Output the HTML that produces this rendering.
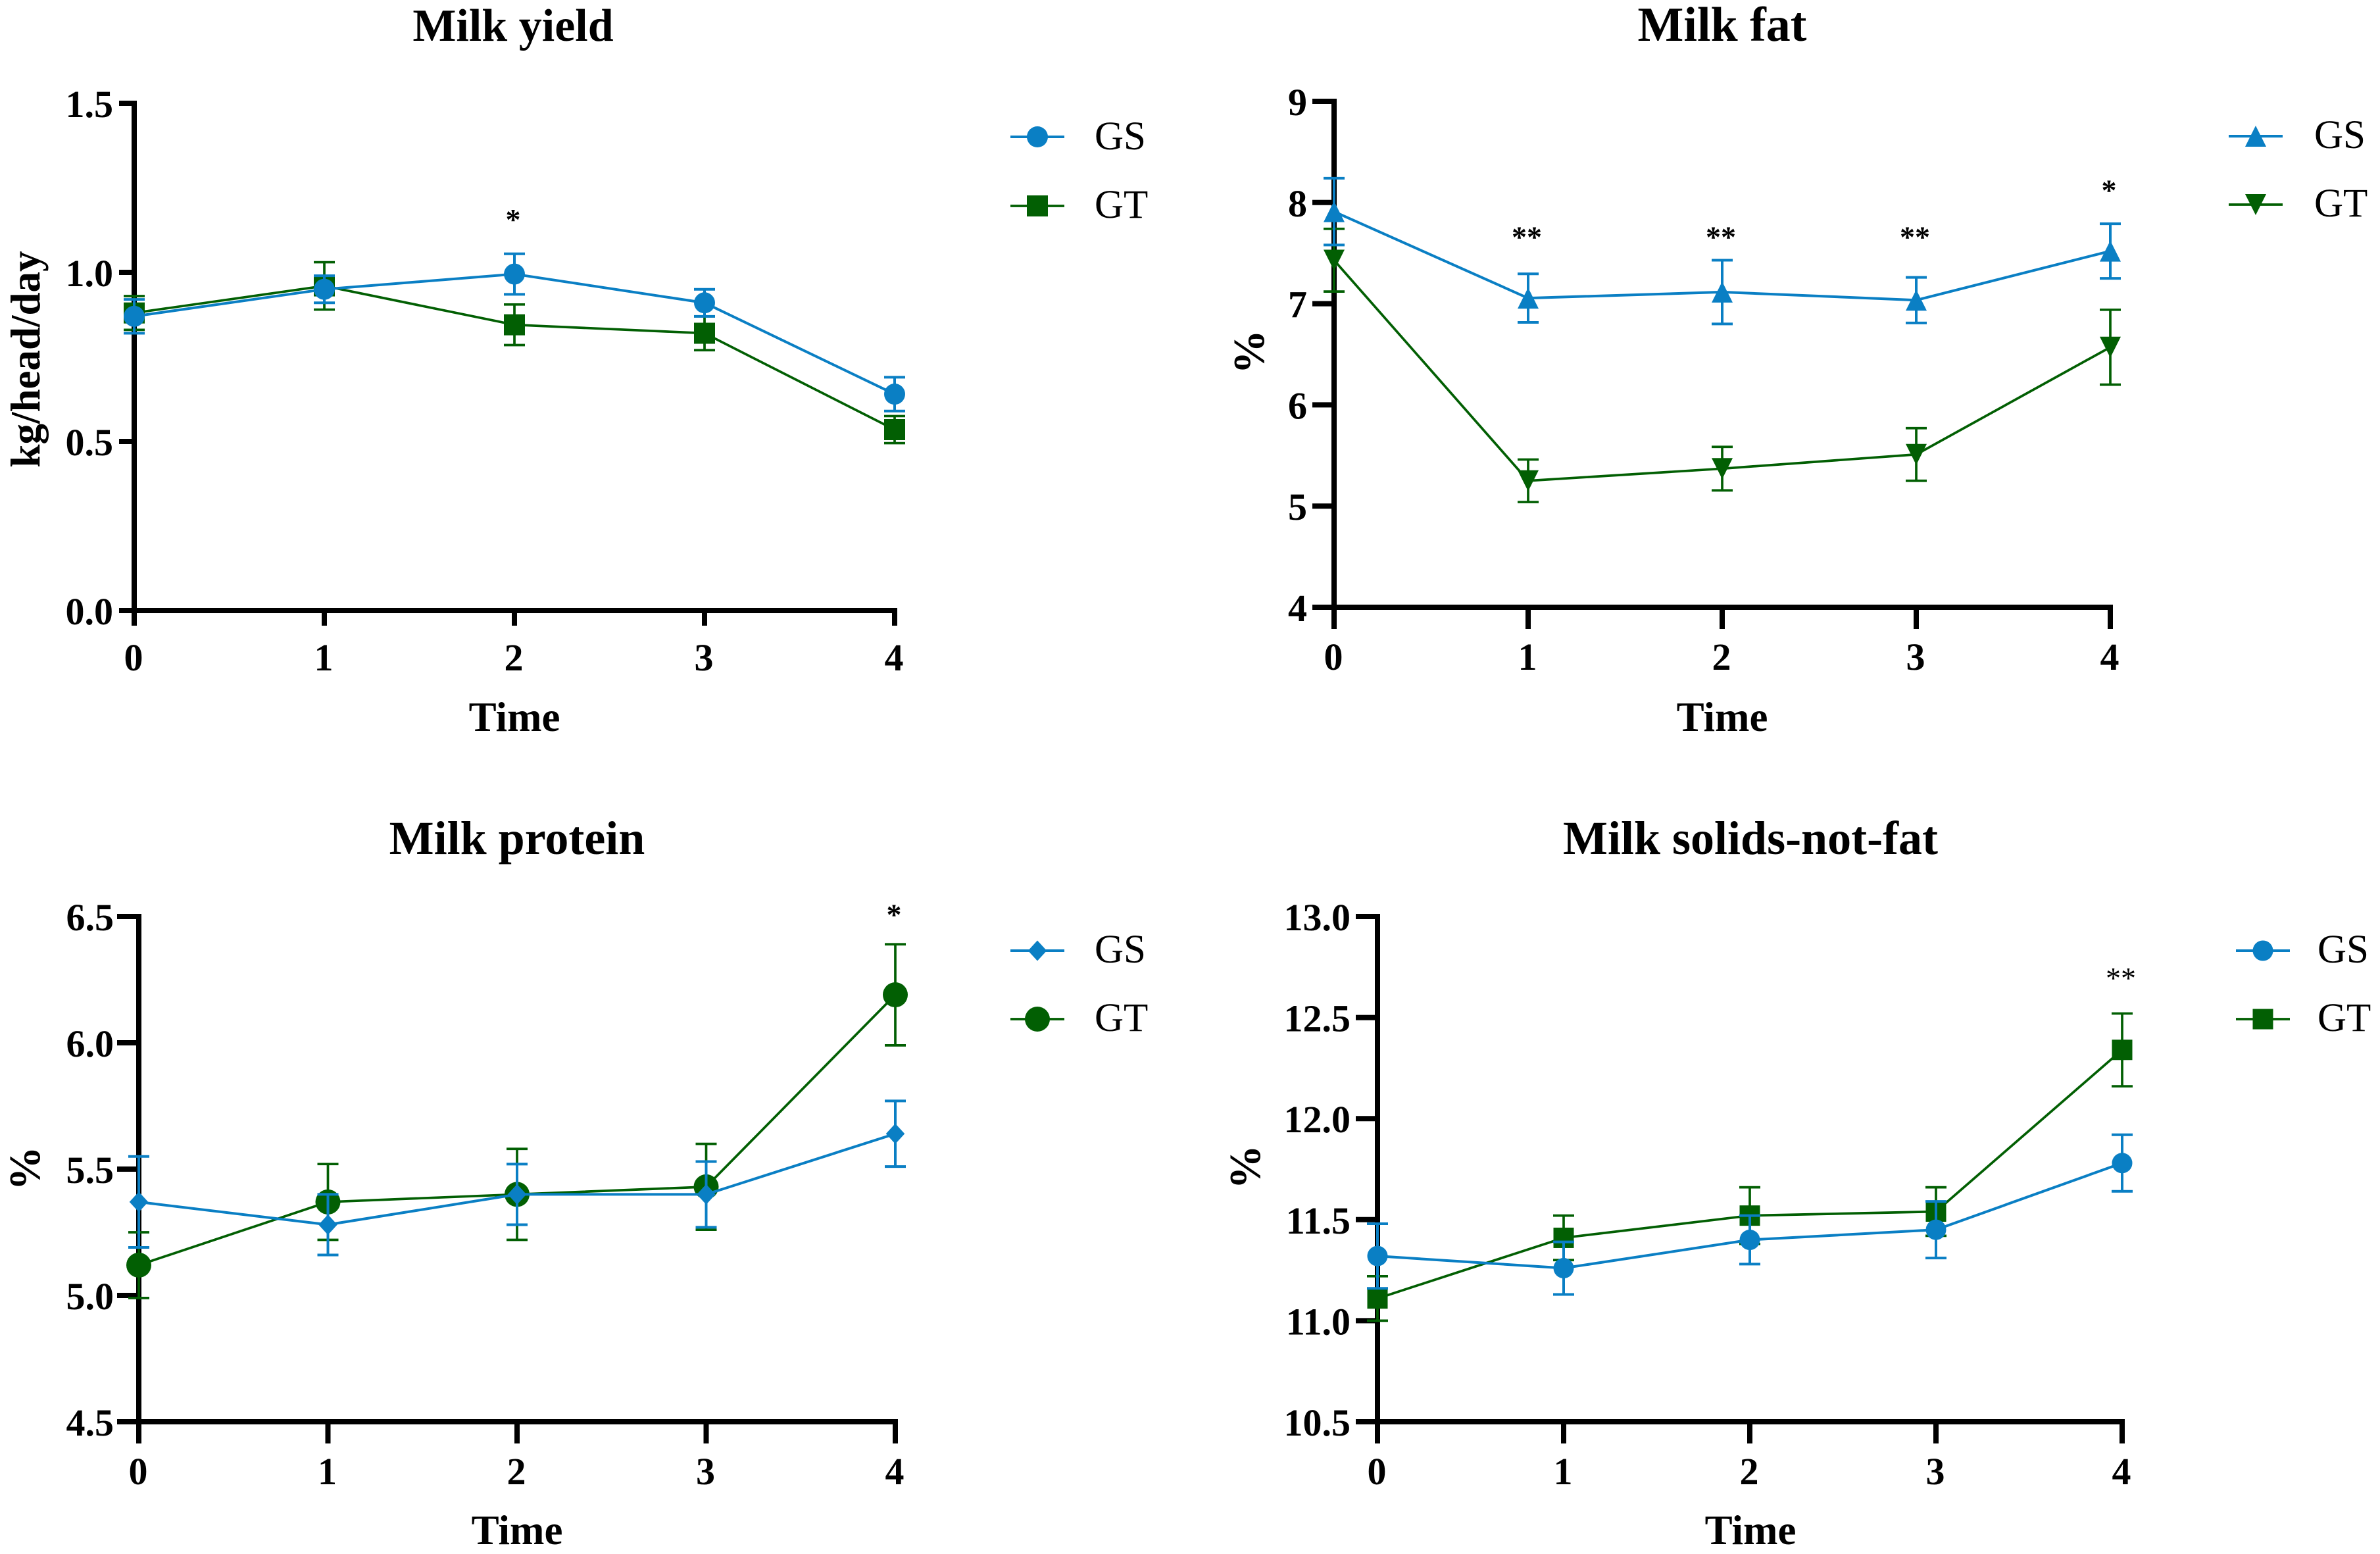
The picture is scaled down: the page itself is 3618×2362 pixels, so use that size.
<!DOCTYPE html>
<html lang="en">
<head>
<meta charset="utf-8">
<title>Milk yield and composition over time</title>
<style>
html,body{margin:0;padding:0;background:#fff;}
svg{display:block;}
text{font-family:"Liberation Serif",serif;fill:#000;}
.title{font-size:72px;font-weight:bold;text-anchor:middle;}
.axis-title{font-size:63px;font-weight:bold;text-anchor:middle;}
.percent{font-size:67px;font-weight:bold;text-anchor:middle;}
.tick{font-size:58px;font-weight:bold;}
.legend{font-size:61px;}
.star{font-size:46px;font-weight:bold;text-anchor:middle;}
</style>
</head>
<body>
<svg id="figure" width="3618" height="2362" viewBox="0 0 3618 2362" xmlns="http://www.w3.org/2000/svg">
  <rect x="0" y="0" width="3618" height="2362" fill="#fff"/>

  <g id="panel-yield">
    <text class="title" style="font-size:70px" x="780" y="62">Milk yield</text>
    <text class="axis-title" x="782" y="1111">Time</text>
    <text class="axis-title" transform="translate(60 546) rotate(-90)">kg/head/day</text>
    <text class="legend" x="1664" y="227">GS</text>
    <text class="legend" x="1664" y="331">GT</text>
  </g>

  <g id="panel-fat">
    <text class="title" style="font-size:74px" x="2618" y="62">Milk fat</text>
    <text class="axis-title" x="2618" y="1111">Time</text>
    <text class="percent" transform="translate(1921 535) rotate(-90)">%</text>
    <text class="legend" x="3518" y="225">GS</text>
    <text class="legend" x="3518" y="329">GT</text>
  </g>

  <g id="panel-protein">
    <text class="title" x="786" y="1298">Milk protein</text>
    <text class="axis-title" x="786" y="2347">Time</text>
    <text class="percent" transform="translate(60 1776) rotate(-90)">%</text>
    <text class="legend" x="1664" y="1463">GS</text>
    <text class="legend" x="1664" y="1567">GT</text>
  </g>

  <g id="panel-snf">
    <text class="title" x="2661" y="1298">Milk solids-not-fat</text>
    <text class="axis-title" x="2661" y="2347">Time</text>
    <text class="percent" transform="translate(1915 1774) rotate(-90)">%</text>
    <text class="legend" x="3523" y="1463">GS</text>
    <text class="legend" x="3523" y="1567">GT</text>
  </g>
</svg>

<script>
// ---- shared category axis ----
const timeCategories = [0, 1, 2, 3, 4];

// ---- Milk yield ----
const yieldTicks = [0, 0.5, 1.0, 1.5];
const yieldTickLabels = ['0.0', '0.5', '1.0', '1.5'];
const yieldGS = [0.87, 0.95, 0.995, 0.91, 0.64];
const yieldGSErr = [0.05, 0.04, 0.06, 0.04, 0.05];
const yieldGT = [0.88, 0.96, 0.845, 0.82, 0.535];
const yieldGTErr = [0.05, 0.07, 0.06, 0.05, 0.04];
const yieldStarTimes = [2];
const yieldStarLevels = [1.165];
const yieldStarLabels = ['*'];

// ---- Milk fat ----
const fatTicks = [4, 5, 6, 7, 8, 9];
const fatTickLabels = ['4', '5', '6', '7', '8', '9'];
const fatGS = [7.91, 7.055, 7.115, 7.035, 7.52];
const fatGSErr = [0.33, 0.24, 0.315, 0.225, 0.27];
const fatGT = [7.43, 5.25, 5.37, 5.51, 6.57];
const fatGTErr = [0.31, 0.21, 0.215, 0.26, 0.37];
const fatStarTimes = [1, 2, 3, 4];
const fatStarLevels = [7.69, 7.69, 7.69, 8.15];
const fatStarLabels = ['**', '**', '**', '*'];

// ---- Milk protein ----
const proteinTicks = [4.5, 5.0, 5.5, 6.0, 6.5];
const proteinTickLabels = ['4.5', '5.0', '5.5', '6.0', '6.5'];
const proteinGS = [5.37, 5.28, 5.40, 5.40, 5.64];
const proteinGSErr = [0.18, 0.12, 0.12, 0.13, 0.13];
const proteinGT = [5.12, 5.37, 5.40, 5.43, 6.19];
const proteinGTErr = [0.13, 0.15, 0.18, 0.17, 0.20];
const proteinStarTimes = [4];
const proteinStarLevels = [6.52];
const proteinStarLabels = ['*'];

// ---- Milk solids-not-fat ----
const snfTicks = [10.5, 11.0, 11.5, 12.0, 12.5, 13.0];
const snfTickLabels = ['10.5', '11.0', '11.5', '12.0', '12.5', '13.0'];
const snfGS = [11.32, 11.26, 11.40, 11.45, 11.78];
const snfGSErr = [0.16, 0.13, 0.12, 0.14, 0.14];
const snfGT = [11.11, 11.41, 11.52, 11.54, 12.34];
const snfGTErr = [0.11, 0.11, 0.14, 0.12, 0.18];
const snfStarTimes = [4];
const snfStarLevels = [12.71];
const snfStarLabels = ['**'];

const BLUE = '#0a7fc4';
const GREEN = '#025f03';
const NS = 'http://www.w3.org/2000/svg';

function make(parent, tag, attrs) {
  const el = document.createElementNS(NS, tag);
  for (const k in attrs) el.setAttribute(k, attrs[k]);
  parent.appendChild(el);
  return el;
}

function marker(parent, shape, cx, cy, size, color) {
  const r = size / 2;
  if (shape === 'circle') {
    return make(parent, 'circle', {cx: cx, cy: cy, r: r, fill: color});
  }
  if (shape === 'square') {
    return make(parent, 'rect', {x: cx - r, y: cy - r, width: size, height: size, fill: color});
  }
  let pts;
  if (shape === 'up') {
    pts = [[cx, cy - r], [cx + r, cy + r], [cx - r, cy + r]];
  } else if (shape === 'down') {
    pts = [[cx, cy + r], [cx + r, cy - r], [cx - r, cy - r]];
  } else {
    pts = [[cx, cy - r], [cx + r * 0.92, cy], [cx, cy + r], [cx - r * 0.92, cy]];
  }
  return make(parent, 'polygon', {points: pts.map(p => p.join(',')).join(' '), fill: color});
}

function drawSeries(g, sx, sy, values, errs, color, shape, size, width) {
  const group = make(g, 'g', {});
  
  

  const capHalf = 16;
  values.forEach(function (v, i) {
    const x = sx(timeCategories[i]);
    const bar = make(group, 'path', {
      d: 'M' + (x - capHalf) + ' ' + sy(v + errs[i]) + 'H' + (x + capHalf) +
         'M' + x + ' ' + sy(v + errs[i]) + 'V' + sy(v - errs[i]) +
         'M' + (x - capHalf) + ' ' + sy(v - errs[i]) + 'H' + (x + capHalf),
      fill: 'none', stroke: color, 'stroke-width': width
    });
    
    
  });

  const line = make(group, 'polyline', {
    points: values.map((v, i) => sx(timeCategories[i]) + ',' + sy(v)).join(' '),
    fill: 'none', stroke: color, 'stroke-width': width, 'stroke-linejoin': 'round'
  });
  
  

  values.forEach(function (v, i) {
    const m = marker(group, shape, sx(timeCategories[i]), sy(v), size, color);
    
    
  });
}

function drawPanel(cfg) {
  const g = document.getElementById(cfg.id);
  const sx = t => cfg.x0 + (t - timeCategories[0]) / (timeCategories[timeCategories.length - 1] - timeCategories[0]) * (cfg.x1 - cfg.x0);
  const lo = cfg.ticks[0];
  const hi = cfg.ticks[cfg.ticks.length - 1];
  const sy = v => cfg.yLo + (v - lo) / (hi - lo) * (cfg.yHi - cfg.yLo);
  const AX = 8;

  // y axis and ticks
  const yAxis = make(g, 'line', {x1: cfg.x0, x2: cfg.x0, y1: sy(hi) - AX / 2, y2: sy(lo) + AX / 2, stroke: '#000', 'stroke-width': AX});
  
  

  cfg.ticks.forEach(function (v, i) {
    const t = make(g, 'line', {x1: cfg.x0 - cfg.tickLen, x2: cfg.x0, y1: sy(v), y2: sy(v), stroke: '#000', 'stroke-width': AX});
    
    

    const lab = make(g, 'text', {x: cfg.x0 - cfg.labelGap, y: sy(v) + 21, 'text-anchor': 'end', 'class': 'tick'});
    lab.textContent = cfg.tickLabels[i];
    
    
  });

  // x axis and ticks
  const xAxis = make(g, 'line', {x1: cfg.x0, x2: sx(4) + AX / 2, y1: sy(lo), y2: sy(lo), stroke: '#000', 'stroke-width': AX});
  
  

  timeCategories.forEach(function (t) {
    const tk = make(g, 'line', {x1: sx(t), x2: sx(t), y1: sy(lo), y2: sy(lo) + cfg.tickLen, stroke: '#000', 'stroke-width': AX});
    
    

    const lab = make(g, 'text', {x: sx(t) - 1, y: sy(lo) + cfg.xLabelGap, 'text-anchor': 'middle', 'class': 'tick'});
    lab.textContent = String(t);
    
    
  });

  // series
  drawSeries(g, sx, sy, cfg.gt, cfg.gtErr, GREEN, cfg.gtShape, cfg.gtSize, 3.7);
  drawSeries(g, sx, sy, cfg.gs, cfg.gsErr, BLUE, cfg.gsShape, cfg.gsSize, 4);

  // significance marks
  cfg.starTimes.forEach(function (t, i) {
    const s = make(g, 'text', {x: sx(t) - 2, y: sy(cfg.starLevels[i]) + 20, 'class': 'star'});
    s.textContent = cfg.starLabels[i];
    s.style.fontWeight = cfg.starWeight;
    
    
  });

  // legend keys
  const keys = [[cfg.legY[0], BLUE, cfg.gsShape, cfg.gsSize, 4], [cfg.legY[1], GREEN, cfg.gtShape, cfg.gtSize, 3.7]];
  keys.forEach(function (k) {
    const kl = make(g, 'line', {x1: cfg.legX - 41, x2: cfg.legX + 41, y1: k[0], y2: k[0], stroke: k[1], 'stroke-width': k[4]});
    
    

    const km = marker(g, k[2], cfg.legX, k[0], k[3], k[1]);
    
    
  });
}

drawPanel({id: 'panel-yield', x0: 204, x1: 1360, yLo: 928, yHi: 157,
  tickLen: 23, labelGap: 32, xLabelGap: 91, starWeight: 'bold',
  ticks: yieldTicks, tickLabels: yieldTickLabels,
  gs: yieldGS, gsErr: yieldGSErr, gt: yieldGT, gtErr: yieldGTErr,
  gsShape: 'circle', gsSize: 32, gtShape: 'square', gtSize: 32,
  starTimes: yieldStarTimes, starLevels: yieldStarLevels, starLabels: yieldStarLabels,
  legX: 1577, legY: [208, 313]});

drawPanel({id: 'panel-fat', x0: 2028, x1: 3208, yLo: 923, yHi: 154,
  tickLen: 33, labelGap: 41, xLabelGap: 95, starWeight: 'bold',
  ticks: fatTicks, tickLabels: fatTickLabels,
  gs: fatGS, gsErr: fatGSErr, gt: fatGT, gtErr: fatGTErr,
  gsShape: 'up', gsSize: 32, gtShape: 'down', gtSize: 32,
  starTimes: fatStarTimes, starLevels: fatStarLevels, starLabels: fatStarLabels,
  legX: 3429, legY: [207, 311]});

drawPanel({id: 'panel-protein', x0: 211, x1: 1361, yLo: 2161, yHi: 1393,
  tickLen: 33, labelGap: 38, xLabelGap: 95, starWeight: 'bold',
  ticks: proteinTicks, tickLabels: proteinTickLabels,
  gs: proteinGS, gsErr: proteinGSErr, gt: proteinGT, gtErr: proteinGTErr,
  gsShape: 'diamond', gsSize: 31, gtShape: 'circle', gtSize: 38,
  starTimes: proteinStarTimes, starLevels: proteinStarLevels, starLabels: proteinStarLabels,
  legX: 1577, legY: [1445, 1549]});

drawPanel({id: 'panel-snf', x0: 2094, x1: 3226, yLo: 2161, yHi: 1393,
  tickLen: 33, labelGap: 41, xLabelGap: 95, starWeight: 'normal',
  ticks: snfTicks, tickLabels: snfTickLabels,
  gs: snfGS, gsErr: snfGSErr, gt: snfGT, gtErr: snfGTErr,
  gsShape: 'circle', gsSize: 31, gtShape: 'square', gtSize: 31,
  starTimes: snfStarTimes, starLevels: snfStarLevels, starLabels: snfStarLabels,
  legX: 3440, legY: [1445, 1549]});
</script>
</body>
</html>
